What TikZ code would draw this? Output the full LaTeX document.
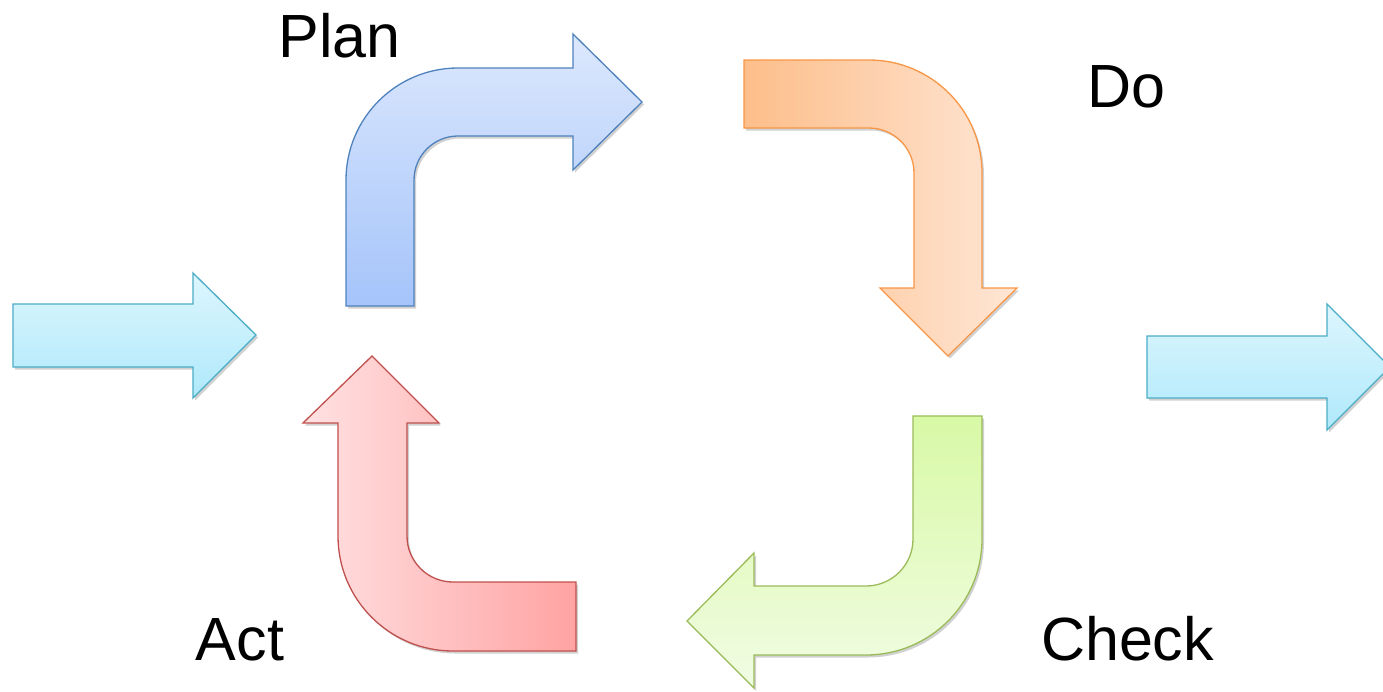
\documentclass[tikz,border=0pt]{standalone}
\usepackage{fontspec}
\setmainfont{Liberation Sans}
\usetikzlibrary{shadows}
\definecolor{planline}{HTML}{4F81BD}
\definecolor{plantop}{HTML}{DCE8FD}
\definecolor{planbot}{HTML}{A5C4FA}
\definecolor{doline}{HTML}{F79646}
\definecolor{doleft}{HTML}{FDBE8A}
\definecolor{doright}{HTML}{FEE6D5}
\definecolor{chkline}{HTML}{9BBB59}
\definecolor{chktop}{HTML}{D8F9A5}
\definecolor{chkbot}{HTML}{F1FCE4}
\definecolor{actline}{HTML}{C0504D}
\definecolor{actleft}{HTML}{FFE1E2}
\definecolor{actright}{HTML}{FFA3A3}
\definecolor{ioline}{HTML}{4BACC6}
\definecolor{iotop}{HTML}{DDF6FD}
\definecolor{iobot}{HTML}{AFE9FB}
\tikzset{
  arrowshape/.style={line width=1.3pt, line join=miter,
    drop shadow={shadow xshift=2pt, shadow yshift=-2.5pt, opacity=0.18, fill=black}},
  label/.style={font=\fontsize{61}{61}\selectfont, inner sep=0pt, anchor=base}
}
\begin{document}
\begin{tikzpicture}[x=1pt,y=-1pt]
\useasboundingbox (0,0) rectangle (1383,691);
\begin{scope}
\clip (0,0) rectangle (1383,691);
% input arrow
\path[arrowshape, draw=ioline, top color=iotop, bottom color=iobot]
  (13,304) -- (193,304) -- (193,273) -- (256,335) -- (193,398) -- (193,367) -- (13,367) -- cycle;
% output arrow
\path[arrowshape, draw=ioline, top color=iotop, bottom color=iobot]
  (1147,336) -- (1327,336) -- (1327,304) -- (1390,367) -- (1327,430) -- (1327,398) -- (1147,398) -- cycle;
% Plan
\path[arrowshape, draw=planline, top color=plantop, bottom color=planbot]
  (346,306) -- (346,180) arc[start angle=180, end angle=90, radius=112pt]
  -- (573,68) -- (573,34) -- (642,102) -- (573,170) -- (573,136) -- (458,136)
  arc[start angle=90, end angle=180, radius=44pt] -- (414,306) -- cycle;
% Do
\path[arrowshape, draw=doline, left color=doleft, right color=doright]
  (744,60) -- (869,60) arc[start angle=90, end angle=0, radius=113pt]
  -- (982,288) -- (1017,288) -- (948,356) -- (880,288) -- (914,288) -- (914,173)
  arc[start angle=0, end angle=90, radius=45pt] -- (744,128) -- cycle;
% Check
\path[arrowshape, draw=chkline, top color=chktop, bottom color=chkbot]
  (913,416) -- (982,416) -- (982,539) arc[start angle=0, end angle=-90, radius=116pt]
  -- (754,655) -- (754,688) -- (687,621) -- (754,553) -- (754,586) -- (866,586)
  arc[start angle=-90, end angle=0, radius=47pt] -- cycle;
% Act
\path[arrowshape, draw=actline, left color=actleft, right color=actright]
  (576,582) -- (453,582) arc[start angle=270, end angle=180, radius=46pt]
  -- (407,423) -- (439,423) -- (372,356) -- (303,423) -- (338,423) -- (338,536)
  arc[start angle=180, end angle=270, radius=115pt] -- (576,651) -- cycle;
\end{scope}
\node[label] (plan) at (339.5,57) {Plan};
\node[label] (do) at (1126.5,107) {Do};
\node[label] (act) at (240,660) {Act};
\node[label] (check) at (1127.5,660) {Check};
\end{tikzpicture}
\end{document}
